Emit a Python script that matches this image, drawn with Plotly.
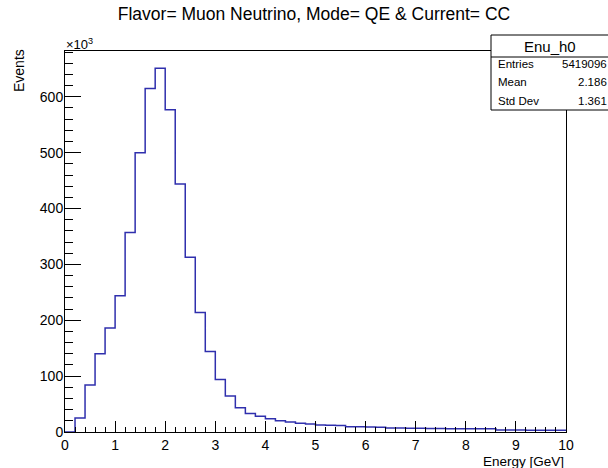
import numpy as np
import plotly.graph_objects as go

# ---- data ----
bin_low = 0.0
bin_high = 10.0
n_bins = 50
# bin contents (events)
counts = [
    0, 25000, 84000, 140000, 186000, 244000, 357000, 500000, 615000, 651000,
    577000, 444000, 313000, 214000, 144000, 94000, 64500, 43500, 33000, 28000,
    23800, 20000, 17900, 15500, 14500, 12500, 12000, 11500, 9600, 9200,
    8800, 8400, 7300, 7000, 6800, 6600, 6400, 6200, 6000, 5900,
    5800, 5700, 5600, 3600, 3500, 3400, 3300, 3200, 3100, 3000,
]
x_ticks = [0, 1, 2, 3, 4, 5, 6, 7, 8, 9, 10]
y_ticks = [0, 100, 200, 300, 400, 500, 600]
stats_name = "Enu_h0"
stats_rows = [("Entries", "5419096"), ("Mean", "2.186"), ("Std Dev", "1.361")]
title_text = "Flavor= Muon Neutrino, Mode= QE & Current= CC"

# ---- geometry ----
W, H = 608, 468
L, R, T, B = 65, 566, 51, 432
pw, ph = R - L, B - T


def px(x):
    return (x - L) / pw


def py(y):
    return (B - y) / ph


edges = np.linspace(bin_low, bin_high, n_bins + 1)
yk = np.array(counts, dtype=float) / 1e3
xs = list(edges)
ys = list(yk) + [yk[-1]]

FONT = "Liberation Sans, Arial, Helvetica, sans-serif"
HCOL = "#2f2fad"

fig = go.Figure()
fig.add_trace(go.Scatter(
    x=xs, y=ys, mode="lines", line=dict(color=HCOL, width=1.5, shape="hv"),
    hoverinfo="skip", showlegend=False,
))

fig.update_layout(
    width=W, height=H,
    margin=dict(l=L, r=W - R, t=T, b=H - B, pad=0),
    paper_bgcolor="white", plot_bgcolor="white",
    font=dict(family=FONT, size=14, color="black"),
    showlegend=False,
    title=dict(text=title_text, x=314 / W, xref="container", xanchor="center",
               y=1 - 14 / H, yref="container", yanchor="middle",
               font=dict(family=FONT, size=17.5, color="black")),
)

fig.update_xaxes(
    range=[bin_low, bin_high], tickvals=x_ticks, ticktext=[str(v) for v in x_ticks],
    ticks="inside", ticklen=11, tickwidth=1, tickcolor="black",
    minor=dict(ticks="inside", ticklen=5, dtick=0.2, tickcolor="black", tickwidth=1, showgrid=False),
    showline=True, linecolor="black", linewidth=1, mirror=True,
    showgrid=False, zeroline=False, ticklabelstandoff=0,
    tickfont=dict(family=FONT, size=14, color="black"),
)
fig.update_yaxes(
    range=[0, 682], tickvals=y_ticks, ticktext=[str(v) for v in y_ticks],
    ticks="inside", ticklen=16, tickwidth=1, tickcolor="black",
    minor=dict(ticks="inside", ticklen=8, dtick=20, tickcolor="black", tickwidth=1, showgrid=False),
    showline=True, linecolor="black", linewidth=1, mirror=True,
    showgrid=False, zeroline=False, ticklabelstandoff=-2,
    tickfont=dict(family=FONT, size=14, color="black"),
)

ann = []
# multiplier
ann.append(dict(text="×10<sup>3</sup>", x=px(64), y=py(44), xref="paper", yref="paper",
                xanchor="left", yanchor="middle", showarrow=False,
                font=dict(family=FONT, size=13, color="black")))
# axis titles
ann.append(dict(text="Events", x=px(19), y=py(71), xref="paper", yref="paper",
                xanchor="center", yanchor="middle", textangle=-90, showarrow=False,
                font=dict(family=FONT, size=14, color="black")))
ann.append(dict(text="Energy [GeV]", x=px(566), y=py(461), xref="paper", yref="paper",
                xanchor="right", yanchor="middle", showarrow=False,
                font=dict(family=FONT, size=13.5, color="black")))

# stats box
bx0, bx1, by0, by1, bsep = 491, 616, 35, 110, 57
shapes = [
    dict(type="rect", xref="paper", yref="paper", x0=px(bx0), x1=px(bx1), y0=py(by1), y1=py(by0),
         fillcolor="white", line=dict(color="black", width=1), layer="above"),
    dict(type="line", xref="paper", yref="paper", x0=px(bx0), x1=px(bx1), y0=py(bsep), y1=py(bsep),
         line=dict(color="black", width=1), layer="above"),
]
ann.append(dict(text=stats_name, x=px(550), y=py(46), xref="paper", yref="paper",
                xanchor="center", yanchor="middle", showarrow=False,
                font=dict(family=FONT, size=15, color="black")))
row_y = [64, 82, 101]
for (lab, val), yy in zip(stats_rows, row_y):
    ann.append(dict(text=lab, x=px(496), y=py(yy), xref="paper", yref="paper",
                    xanchor="left", yanchor="middle", showarrow=False,
                    font=dict(family=FONT, size=11.5, color="black")))
    ann.append(dict(text=val, x=px(609), y=py(yy), xref="paper", yref="paper",
                    xanchor="right", yanchor="middle", showarrow=False,
                    font=dict(family=FONT, size=11.5, color="black")))

fig.update_layout(annotations=ann, shapes=shapes)
fig.write_html("out.html")
